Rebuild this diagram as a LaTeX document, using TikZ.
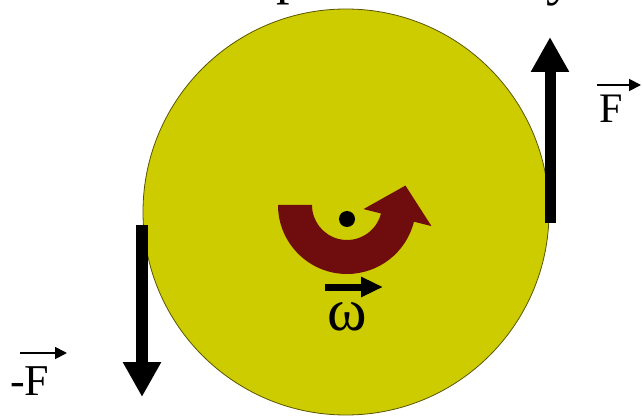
\documentclass[tikz,border=0pt]{standalone}
\definecolor{DiscYellow}{RGB}{205, 204, 0}
\definecolor{DiscEdge}{RGB}{90, 85, 0}
\definecolor{SpinMaroon}{RGB}{110, 12, 14}
\usepackage{fontspec}
\setmainfont{Liberation Serif}
\usepackage{tikz}
\usetikzlibrary{arrows.meta,calc}

\begin{document}
\begin{tikzpicture}[
        x=1pt, y=1pt,
        force/.style={-{Triangle[width=36pt,length=35pt]}, line width=11pt, black},
        vecbar/.style={-{Triangle[width=12pt,length=12pt]}, line width=1.8pt, black},
        label/.style={inner sep=0pt, font=\fontsize{42}{42}\selectfont}
    ]
        \useasboundingbox (0,0) rectangle (642,418);
        \clip (0,0) rectangle (642,418);

        % title cut off at the top
        \node[label, anchor=base west, font=\fontsize{54}{54}\selectfont] (tp) at (276,424) {p};
        \node[label, anchor=base west, font=\fontsize{54}{54}\selectfont] (ty) at (546,423) {y};

        % disc
        \node[circle, draw=DiscEdge, line width=0.8pt, fill=DiscYellow,
              minimum size=406pt, inner sep=0pt] (disc) at (346,206) {};

        % turning arrow round the axle
        \coordinate (axis) at (347,213);
        \fill[SpinMaroon] ($(axis)+(180:69)$) arc[start angle=180, end angle=346, radius=69]
            -- ($(axis)+(346:87)$) -- ($(axis)+(346:52)+(76:33)$) -- ($(axis)+(346:17)$)
            -- ($(axis)+(346:35)$) arc[start angle=346, end angle=180, radius=35] -- cycle;
        \fill[black] (347,199) circle[radius=8];

        % forces
        \coordinate (up0) at (550,195);
        \coordinate (up1) at (550,381);
        \coordinate (dn0) at (142,193);
        \coordinate (dn1) at (142,21);
        \draw[force] (up0) -- (up1);
        \draw[force, line width=12pt] (dn0) -- (dn1);

        \node[label, anchor=base west] (fr) at (599,295) {F};
        \coordinate (fr0) at (597,333);
        \coordinate (fr1) at (641,333);
        \draw[vecbar] (fr0) -- (fr1);

        \node[label, anchor=base west, font=\fontsize{44}{44}\selectfont] (fl) at (10,23) {-F};
        \coordinate (fl0) at (20,65);
        \coordinate (fl1) at (67,65);
        \draw[vecbar] (fl0) -- (fl1);

        % angular velocity
        \node[label, anchor=base, font=\fontsize{60}{60}\selectfont] (om) at (347,88) {ω};
        \coordinate (om0) at (325,131);
        \coordinate (om1) at (383,131);
        \draw[-{Triangle[width=19pt,length=22pt]}, line width=7pt] (om0) -- (om1);
    \end{tikzpicture}
\end{document}
